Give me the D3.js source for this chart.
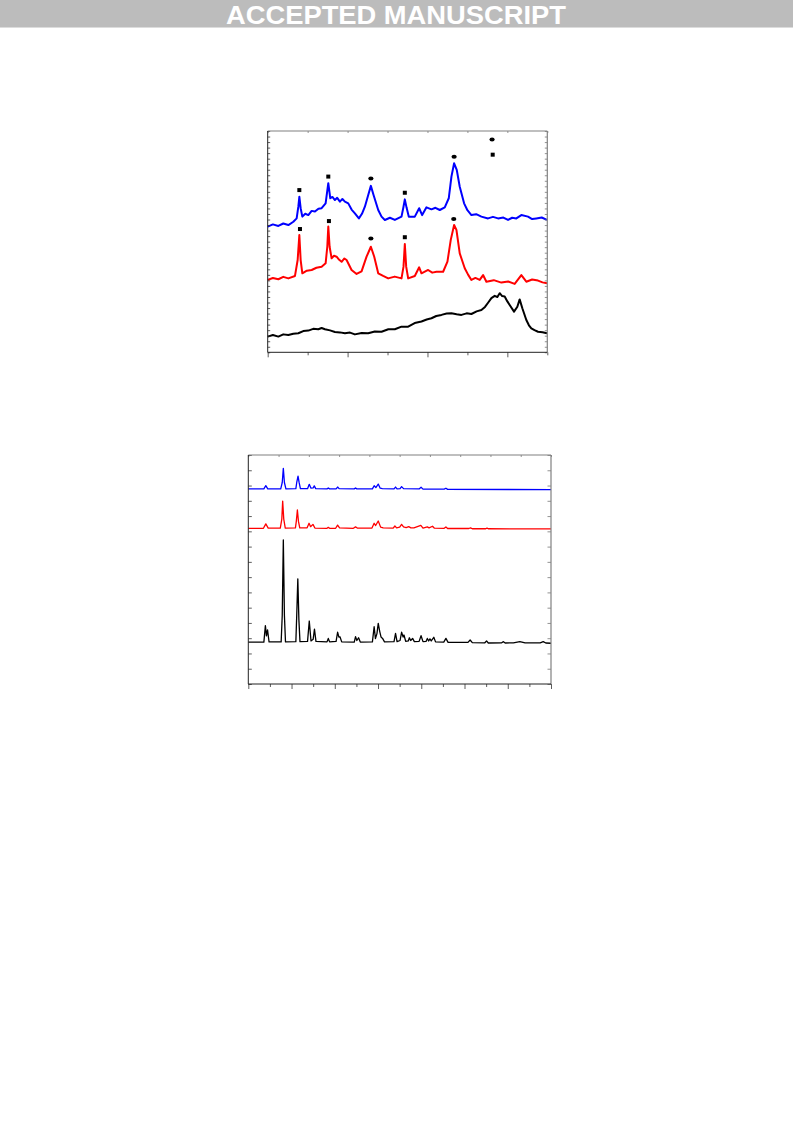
<!DOCTYPE html>
<html><head><meta charset="utf-8">
<script src="https://cdn.jsdelivr.net/npm/d3@7/dist/d3.min.js"></script>
<style>body{margin:0;background:#fff}svg{display:block}</style>
</head><body>
<svg id="page" width="793" height="1123"></svg>
<script>
// ---------- DATA ----------
const bannerText = "ACCEPTED MANUSCRIPT";

// Chart A (top): 2θ (deg) vs intensity (a.u.)
const aBlue = [[10,56.8],[11.3,57.8],[12.67,57.1],[13.9,58.2],[15.17,57.5],[16.42,59.0],[17.25,60.5],[17.67,65.8],[17.92,70.3],[18.25,65.1],[18.67,61.3],[19.4,62.6],[20.17,62.0],[21.0,63.9],[21.83,63.6],[22.7,64.9],[23.5,65.1],[24.5,67.3],[25.17,76.4],[25.67,69.6],[26.2,70.2],[26.83,68.8],[27.4,69.8],[28.08,68.1],[28.7,69.3],[29.33,68.1],[30.17,67.3],[31.0,64.5],[31.83,62.8],[32.83,60.5],[33.6,62.6],[34.33,65.8],[35.17,71.1],[35.83,75.2],[36.5,71.1],[37.67,64.3],[38.5,61.3],[39.33,59.8],[40.6,60.8],[41.83,59.8],[43.5,61.3],[44.0,65.8],[44.33,69.1],[44.75,65.5],[45.33,61.3],[46.83,61.3],[47.92,65.1],[48.67,62.0],[49.75,65.5],[51.0,64.6],[52.0,65.3],[53.08,64.3],[54.33,65.5],[55.33,69.6],[56.0,79.4],[56.67,85.4],[57.33,82.4],[58.08,74.8],[59.17,67.3],[60.0,64.2],[61.0,62.0],[62.2,62.4],[63.5,61.3],[65.17,60.5],[66.4,61.2],[67.67,60.5],[69.0,60.9],[70.17,59.8],[71.2,60.8],[72.25,60.5],[73.5,62.0],[75.17,61.3],[76.2,60.2],[77.25,60.5],[78.6,60.9],[79.92,59.8]];
const aRed = [[10,32.7],[11.3,33.6],[12.67,33.0],[13.9,34.1],[15.17,33.4],[16.83,34.5],[17.5,41.7],[17.92,53.0],[18.25,41.7],[18.67,35.7],[19.8,36.9],[21.0,37.2],[22.2,38.2],[23.5,38.7],[24.5,40.2],[24.92,47.7],[25.17,56.8],[25.5,47.7],[26.0,42.5],[26.6,43.6],[27.25,43.2],[27.9,41.8],[28.5,40.9],[29.2,42.4],[29.75,41.7],[31.0,37.2],[32.25,35.4],[33.5,36.6],[34.75,43.2],[35.83,47.7],[36.67,43.2],[37.67,35.7],[38.9,34.5],[40.17,33.4],[41.8,34.2],[43.5,33.4],[44.0,38.7],[44.33,48.9],[44.67,38.7],[45.17,33.4],[46.83,34.5],[47.92,38.4],[48.5,35.7],[50.17,37.2],[51.2,36.0],[52.25,36.4],[53.92,36.4],[55.0,41.0],[55.83,50.8],[56.67,57.5],[57.25,55.3],[58.08,44.7],[59.33,38.0],[60.2,35.0],[61.0,32.7],[62.0,33.6],[63.08,32.7],[63.92,34.9],[64.75,31.9],[66.6,32.6],[68.5,31.5],[70.2,32.0],[71.83,30.9],[73.5,34.9],[74.75,31.9],[76.2,32.9],[77.67,32.4],[78.8,31.6],[79.92,31.2]];
const aBlack = [[10,7.1],[11.3,7.8],[12.67,7.1],[13.9,8.1],[15.17,7.8],[16.4,8.4],[17.67,8.6],[18.9,9.6],[20.17,9.8],[21.4,10.6],[22.67,10.4],[23.5,11.0],[24.33,10.4],[25.6,9.9],[26.83,9.2],[28.1,9.0],[29.33,8.6],[30.6,8.9],[31.83,8.1],[33.5,8.7],[35.17,8.6],[36.8,9.4],[38.5,9.3],[40.2,10.4],[41.83,10.4],[43.5,11.6],[45.17,11.6],[46.8,13.2],[48.5,13.9],[49.8,14.8],[51.0,15.4],[52.2,16.4],[53.5,16.9],[54.8,17.5],[56.0,17.6],[57.3,17.2],[58.5,16.9],[59.8,17.6],[61.0,17.3],[62.3,18.5],[63.5,19.1],[64.4,20.5],[65.17,22.4],[66.0,24.5],[66.83,25.5],[67.5,25.0],[68.08,26.7],[68.7,25.4],[69.33,25.2],[70.0,23.0],[70.58,21.4],[71.67,18.4],[72.5,20.6],[73.08,23.9],[73.75,19.9],[74.75,14.6],[75.4,12.2],[76.0,10.8],[76.8,10.0],[77.67,9.3],[78.8,9.1],[79.92,8.6]];
const aSquares = [[17.92,73.3,"blue"],[25.17,79.4,"blue"],[44.33,72.1,"blue"],[18.08,55.7,"red"],[25.33,59.3,"red"],[44.33,52.0,"red"]];
const aEllipses = [[35.83,78.5,"blue"],[56.67,88.4,"blue"],[35.83,51.4,"red"],[56.58,60.2,"red"]];
const aLegendEllipse = [66.17,96.2];
const aLegendSquare = [66.33,89.3];
const aXDomain = [10,80], aYDomain = [0,100];
const aXMajor = [10,30,50,70], aXMinor = [20,40,60,80];

// Chart B (bottom)
const bBlack = [[10,18.3],[13.6,18.3],[13.95,25.5],[14.2,21],[14.45,23.6],[14.8,18.4],[17.6,18.4],[17.85,30],[18.1,62.9],[18.35,30],[18.6,18.4],[21.0,18.5],[21.2,30],[21.45,45.9],[21.7,28],[21.95,18.5],[23.7,18.6],[24.1,27.5],[24.5,18.8],[25.0,19.5],[25.3,24.0],[25.65,18.6],[28.2,18.4],[28.5,19.9],[28.8,18.4],[30.3,18.6],[30.65,22.6],[30.95,20.5],[31.2,20.6],[31.6,18.4],[34.5,18.3],[34.8,20.7],[35.1,19.0],[35.5,20.2],[35.9,18.3],[38.7,18.4],[39.1,25.0],[39.4,19.8],[39.75,22],[40.05,26.5],[40.4,22.9],[40.7,20.5],[41.05,19.9],[41.5,18.4],[43.7,18.5],[44.05,22.1],[44.4,18.5],[45.1,19],[45.45,22.6],[45.8,20.5],[46.0,21.4],[46.4,18.6],[47.0,18.8],[47.25,20.2],[47.55,19],[48.0,19.9],[48.4,18.5],[49.5,18.6],[49.95,21.1],[50.4,18.5],[51.1,18.6],[51.4,19.9],[51.7,18.8],[52.0,19.7],[52.3,18.8],[52.9,20.4],[53.3,18.4],[55.2,18.3],[55.7,19.9],[56.2,18.2],[60.8,18.2],[61.3,19.2],[61.8,18.1],[64.7,18.0],[65.1,18.8],[65.5,17.9],[68.6,18.0],[69.0,18.5],[69.4,17.9],[71.3,18.0],[72.8,18.5],[74,18.0],[77.5,18.0],[78.2,18.5],[78.8,17.9],[80,17.8]];
const bRed = [[10,68.0],[13.5,68.0],[14.05,69.9],[14.6,68.1],[17.4,68.1],[17.75,72],[17.95,79.9],[18.2,72],[18.55,68.1],[20.9,68.2],[21.1,71],[21.35,76.0],[21.6,71],[21.9,68.2],[23.6,68.2],[24.05,70.2],[24.4,68.7],[24.95,69.7],[25.4,68.1],[28.2,68.0],[28.5,68.4],[28.8,68.0],[30.2,68.0],[30.65,69.4],[31.1,68.2],[34.3,68.0],[34.8,68.6],[35.2,68.1],[38.6,68.1],[39.1,70.2],[39.45,69.2],[40.05,71.2],[40.6,68.5],[41.2,68.2],[43.5,68.1],[43.9,69.0],[44.3,68.2],[45.0,68.5],[45.45,69.7],[45.9,68.6],[46.5,68.3],[47.1,68.7],[47.6,68.2],[48.3,68.2],[49.9,69.3],[50.4,68.1],[51.4,68.6],[51.8,68.2],[52.6,68.9],[53.0,68.1],[55.3,68.0],[55.7,68.6],[56.1,67.9],[61.0,67.9],[61.4,68.2],[61.8,67.8],[64.9,67.8],[65.2,68.1],[65.5,67.8],[80,67.7]];
const bBlue = [[10,85.2],[13.6,85.2],[14.05,86.6],[14.5,85.2],[17.5,85.2],[17.85,88],[18.1,94.2],[18.35,88],[18.7,85.2],[21.0,85.3],[21.2,88],[21.5,90.8],[21.75,88],[22.05,85.3],[23.7,85.3],[24.1,87.2],[24.5,85.5],[25.0,85.6],[25.25,86.5],[25.6,85.3],[28.2,85.2],[28.5,85.6],[28.8,85.2],[30.3,85.2],[30.65,86.0],[31.0,85.3],[34.5,85.2],[34.8,85.6],[35.1,85.2],[38.7,85.2],[39.1,86.6],[39.5,85.8],[40.05,87.3],[40.5,85.5],[41.0,85.3],[43.7,85.2],[44.05,86.0],[44.4,85.2],[45.1,85.3],[45.45,86.2],[45.9,85.3],[49.5,85.2],[49.95,85.9],[50.4,85.1],[55.3,85.1],[55.7,85.5],[56.1,85.0],[80,84.9]];
const bXDomain = [10,80], bYDomain = [0,100];
const bXMajor = [10,20,30,40,50,60,70,80], bXMinor = [15,25,35,45,55,65,75];

// ---------- DRAW ----------
const svg = d3.select("#page");

// banner
svg.append("rect").attr("x",0).attr("y",0).attr("width",793).attr("height",27).attr("fill","#bcbcbc");
svg.append("line").attr("x1",0).attr("x2",793).attr("y1",27.5).attr("y2",27.5).attr("stroke","#dcdcdc").attr("stroke-width",1);
svg.append("text").attr("x",396).attr("y",23.5).attr("text-anchor","middle")
  .attr("font-family","Liberation Sans Narrow, Liberation Sans, Arial, sans-serif").attr("font-weight","bold")
  .attr("font-size",25).attr("fill","#fff").attr("textLength",340).attr("lengthAdjust","spacingAndGlyphs")
  .text(bannerText);

function frame(g, w, h, cfg){
  const {x, y} = cfg;
  const bottom = g.append("g").attr("transform",`translate(0,${h})`);
  bottom.call(d3.axisBottom(x).tickValues(cfg.xMajor).tickSize(5).tickFormat(""));
  bottom.append("g").call(d3.axisBottom(x).tickValues(cfg.xMinor).tickSize(3).tickFormat(""));
  bottom.selectAll(".domain").remove();
  const top = g.append("g");
  top.call(d3.axisTop(x).tickValues(cfg.xTop).tickSize(-2).tickFormat(""));
  top.selectAll(".domain").remove();
  const left = g.append("g");
  left.call(d3.axisLeft(y).tickValues(cfg.yTicks).tickSize(-cfg.yTickLen).tickFormat(""));
  left.selectAll(".domain").remove();
  const right = g.append("g").attr("transform",`translate(${w},0)`);
  right.call(d3.axisRight(y).tickValues(cfg.yTicks).tickSize(-cfg.yTickLen).tickFormat(""));
  right.selectAll(".domain").remove();
  g.selectAll(".tick line").attr("stroke","#333").attr("stroke-width",0.8);
  right.selectAll(".tick line").attr("stroke","#777");
  top.selectAll(".tick line").attr("stroke","#777");
  g.append("line").attr("x1",0).attr("x2",w).attr("y1",0).attr("y2",0).attr("stroke","#808080").attr("stroke-width",1.2);
  g.append("line").attr("x1",w).attr("x2",w).attr("y1",0).attr("y2",h).attr("stroke","#808080").attr("stroke-width",1.2);
  g.append("line").attr("x1",0).attr("x2",0).attr("y1",0).attr("y2",h).attr("stroke","#222").attr("stroke-width",1);
  g.append("line").attr("x1",0).attr("x2",w).attr("y1",h).attr("y2",h).attr("stroke","#222").attr("stroke-width",1);
}

// Chart A
{
  const L=267.7, T=131, W=279.6, H=221.3;
  const g = svg.append("g").attr("transform",`translate(${L},${T})`);
  const x = d3.scaleLinear().domain(aXDomain).range([0,W]);
  const y = d3.scaleLinear().domain(aYDomain).range([H,0]);
  const line = d3.line().x(d=>x(d[0])).y(d=>y(d[1]));
  [[aBlack,"#000"],[aRed,"#ff0000"],[aBlue,"#0000ff"]].forEach(([d,c])=>{
    g.append("path").datum(d).attr("d",line).attr("fill","none").attr("stroke",c).attr("stroke-width",2).attr("stroke-linejoin","round");
  });
  g.selectAll("rect.sq").data(aSquares.concat([[aLegendSquare[0],aLegendSquare[1]]])).join("rect")
    .attr("x",d=>x(d[0])-2).attr("y",d=>y(d[1])-2).attr("width",4).attr("height",4).attr("fill","#000");
  g.selectAll("ellipse.el").data(aEllipses.concat([[aLegendEllipse[0],aLegendEllipse[1]]])).join("ellipse")
    .attr("cx",d=>x(d[0])).attr("cy",d=>y(d[1])).attr("rx",2.6).attr("ry",2).attr("fill","#000");
  const yT = d3.range(0,100.01,2.5);
  frame(g,W,H,{x,y,xMajor:aXMajor,xMinor:aXMinor,xTop:aXMajor.concat(aXMinor),yTicks:yT,yTickLen:2.5});
}

// Chart B
{
  const L=248.3, T=455, W=302.7, H=229;
  const g = svg.append("g").attr("transform",`translate(${L},${T})`);
  const x = d3.scaleLinear().domain(bXDomain).range([0,W]);
  const y = d3.scaleLinear().domain(bYDomain).range([H,0]);
  const line = d3.line().x(d=>x(d[0])).y(d=>y(d[1]));
  [[bBlack,"#000"],[bRed,"#ff0000"],[bBlue,"#0000ff"]].forEach(([d,c])=>{
    g.append("path").datum(d).attr("d",line).attr("fill","none").attr("stroke",c).attr("stroke-width",1.3).attr("stroke-linejoin","round");
  });
  const yT = d3.range(0,100.01,100/15);
  frame(g,W,H,{x,y,xMajor:bXMajor,xMinor:bXMinor,xTop:d3.range(10,80.01,7),yTicks:yT,yTickLen:3.5});
}
</script>
</body></html>
